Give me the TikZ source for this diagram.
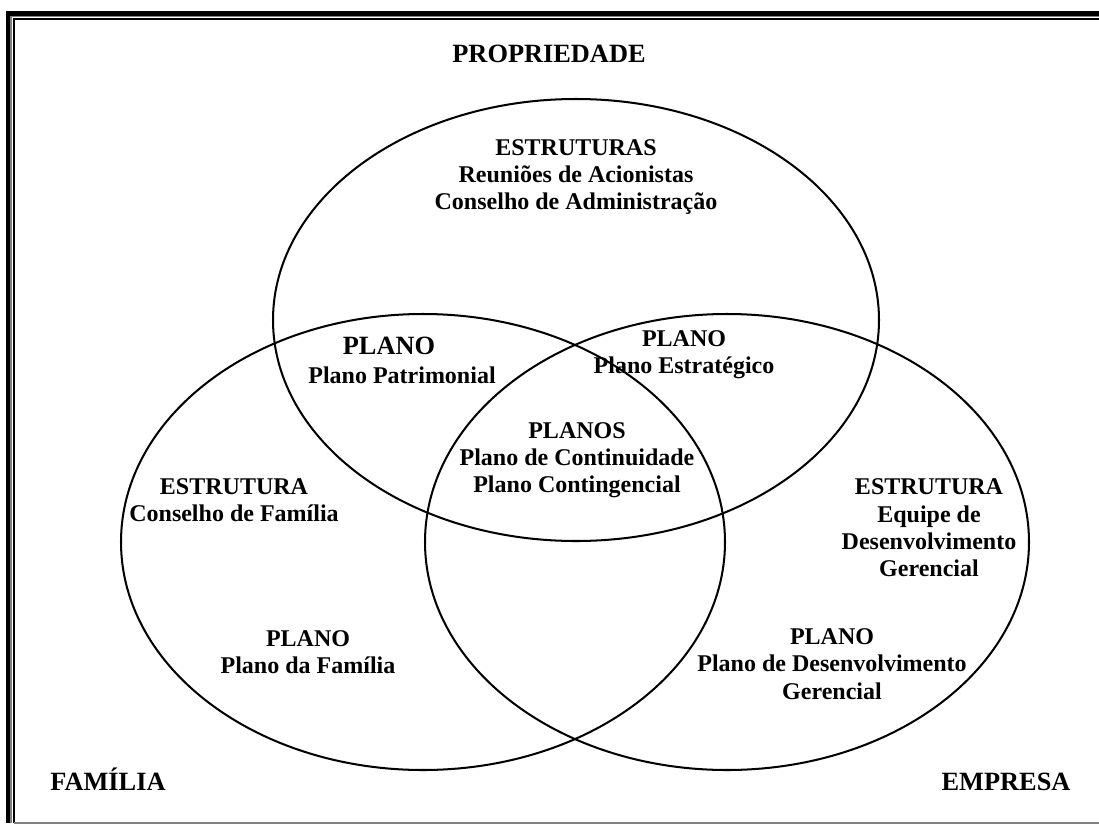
\documentclass[tikz,border=0pt]{standalone}
\usepackage{fontspec}
\setmainfont{Liberation Serif}

\begin{document}
\begin{tikzpicture}[x=0.02cm,y=-0.02cm,every node/.style={inner sep=0pt,outer sep=0pt,align=center}]
\tikzstyle{circ}=[line width=1.15pt]
\tikzstyle{txt}=[font=\fontsize{13.66}{15.5}\selectfont\bfseries]
\tikzstyle{head}=[font=\fontsize{15}{17}\selectfont\bfseries]

\useasboundingbox (0,0) rectangle (1099,825);

% frame
\draw [line width=2.4pt] (8,823) -- (8,13.5) -- (1099,13.5);
\draw [line width=0.6pt,gray] (11,823) -- (11,16.5) -- (1099,16.5);
\draw [line width=0.6pt] (14,823) -- (14,19) -- (1099,19);
\draw [line width=0.6pt,gray] (14,823) -- (1099,823);

% the three sets
\coordinate (Prop) at (576,320);
\coordinate (Fam) at (423,542);
\coordinate (Emp) at (727,542);
\draw [circ] (Prop) ellipse [x radius=303, y radius=221];
\draw [circ] (Fam) ellipse [x radius=302, y radius=228];
\draw [circ] (Emp) ellipse [x radius=302, y radius=228];

\node (propriedade) [head,anchor=base] at (549,62) {PROPRIEDADE};
\node (familia) [head,anchor=base] at (108,790) {FAMÍLIA};
\node (empresa) [head,anchor=base] at (1006,790) {EMPRESA};

\node (estrProp) [txt] at (576,177) {ESTRUTURAS\\Reuniões de Acionistas\\Conselho de Administração};

\node (planoPat) [head] at (389,346) {PLANO};
\node (planoPatNome) [txt] at (402,375) {Plano Patrimonial};

\node (planoEst) [txt] at (684,355) {PLANO\\Plano Estratégico};

\node (planos) [txt] at (577,460) {PLANOS\\Plano de Continuidade\\Plano Contingencial};

\node (estrFam) [txt] at (234,500) {ESTRUTURA\\Conselho de Família};
\node (estrEmp) [txt] at (929,528) {ESTRUTURA\\Equipe de\\Desenvolvimento\\Gerencial};

\node (planoFam) [txt] at (308,652) {PLANO\\Plano da Família};
\node (planoEmp) [txt] at (832,664) {PLANO\\Plano de Desenvolvimento\\Gerencial};
\end{tikzpicture}
\end{document}
